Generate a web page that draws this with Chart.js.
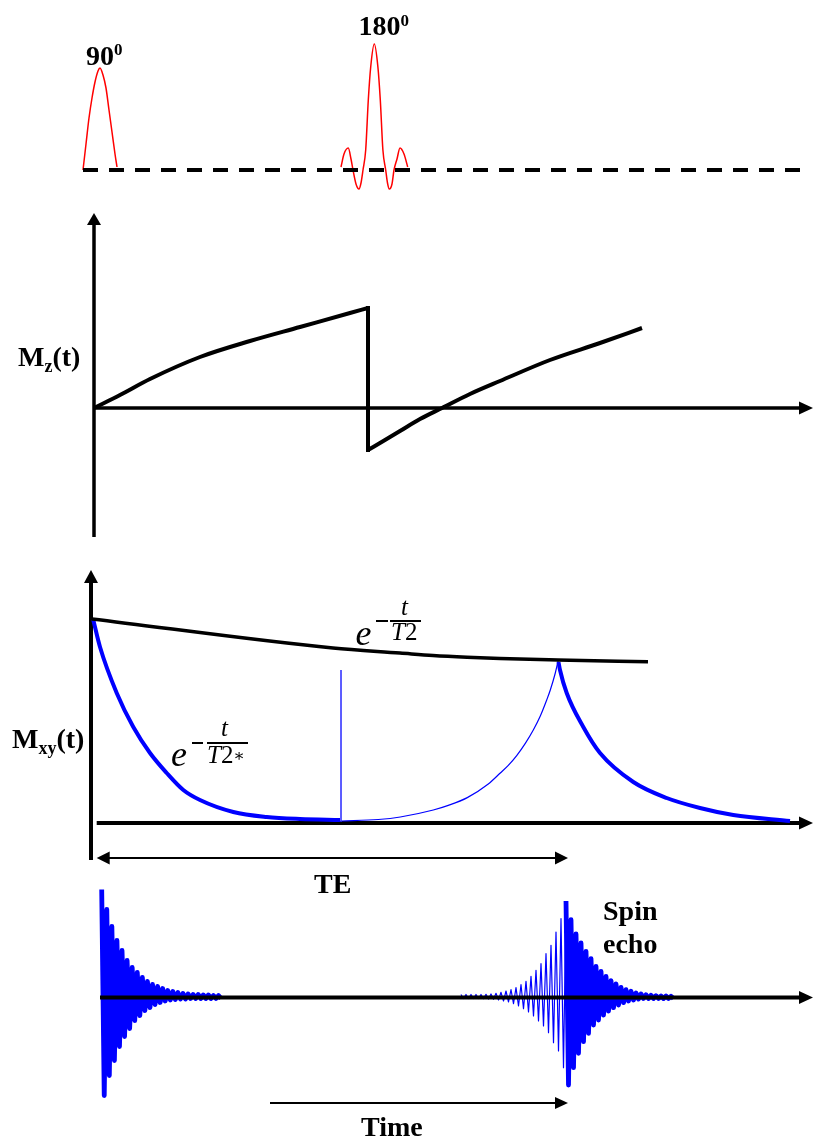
<!DOCTYPE html>
<html>
<head>
<meta charset="utf-8">
<script src="https://cdn.jsdelivr.net/npm/chart.js@4.4.1/dist/chart.umd.min.js"></script>
<style>
html,body{margin:0;padding:0;background:#fff;}
#wrap{position:relative;width:814px;height:1140px;overflow:hidden;background:#fff;}
canvas{position:absolute;left:0;}
.lbl{position:absolute;font-family:'Liberation Serif','Times New Roman',serif;font-weight:bold;font-size:28px;line-height:28px;white-space:nowrap;color:#000;z-index:5;}
.sub{font-size:18px;position:relative;top:6px;}
.sup{font-size:17px;position:relative;}
.m{position:absolute;font-family:'Liberation Serif','Times New Roman',serif;font-style:italic;line-height:1;white-space:nowrap;color:#000;z-index:5;}
.up{font-style:normal;}
.ast{font-style:normal;font-family:'DejaVu Serif',serif;font-size:17px;position:relative;top:-2px;}
.rule{position:absolute;height:1.5px;background:#000;z-index:5;}
</style>
</head>
<body>
<div id="wrap">
  <canvas id="cRF" width="814" height="200" style="top:0px"></canvas>
  <canvas id="cMz" width="814" height="345" style="top:200px"></canvas>
  <canvas id="cMxy" width="814" height="340" style="top:560px"></canvas>
  <canvas id="cSig" width="814" height="270" style="top:870px"></canvas>

  <div class="lbl" style="left:86px;top:42px">90<span class="sup" style="top:-10.5px">0</span></div>
  <div class="lbl" style="left:358.5px;top:11.5px">180<span class="sup" style="top:-8.5px">0</span></div>
  <div class="lbl" style="left:18px;top:343px">M<span class="sub">z</span>(t)</div>
  <div class="lbl" style="left:12px;top:725px">M<span class="sub">xy</span>(t)</div>
  <div class="lbl" style="left:314px;top:869.5px">TE</div>
  <div class="lbl" style="left:603px;top:896.5px">Spin</div>
  <div class="lbl" style="left:603px;top:930px">echo</div>
  <div class="lbl" style="left:361px;top:1113px">Time</div>

  <!-- e^(-t/T2) -->
  <div class="m" style="font-size:36px;left:355.5px;top:614.8px">e</div>
  <div class="rule" style="left:376px;top:620.3px;width:12px"></div>
  <div class="rule" style="left:390px;top:620.3px;width:31px"></div>
  <div class="m" style="font-size:25px;left:401px;top:594px">t</div>
  <div class="m" style="font-size:25px;left:391px;top:619px">T<span class="up">2</span></div>
  <!-- e^(-t/T2*) -->
  <div class="m" style="font-size:36px;left:171px;top:735.8px">e</div>
  <div class="rule" style="left:191.7px;top:742px;width:11.6px"></div>
  <div class="rule" style="left:206.7px;top:742px;width:41.6px"></div>
  <div class="m" style="font-size:25px;left:221px;top:715px">t</div>
  <div class="m" style="font-size:25px;left:207px;top:742px">T<span class="up">2</span><span class="ast">∗</span></div>
</div>

<script>
// ---------- DATA (time in arbitrary units, TE ≈ 95) ----------
const X_MIN = -18.4, X_MAX = 144.4;

// RF pulses (B1 amplitude, a.u.)
const rf90Time  = [-1.8,-1.2,-0.6,0,0.6,1.2,1.6,2.2,2.8,3.4,4.0,4.6,5.0];
const rf90Amp   = [0,0.26,0.52,0.72,0.88,0.99,1.02,0.95,0.82,0.60,0.38,0.16,0.03];
const rf180Time = [49.8,50.4,51.26,51.8,52.2,52.8,53.4,53.8,54.2,54.74,55.26,55.74,56.46,57.18,57.66,58.18,58.74,59.1,59.46,60.0,60.4,61.0,61.6,62.4,63.14];
const rf180Amp  = [0.03,0.16,0.22,0.11,0,-0.14,-0.19,-0.13,0,0.20,0.70,1.03,1.26,1.03,0.70,0.20,0,-0.13,-0.19,-0.14,0,0.11,0.22,0.16,0.03];
const rfBaseTime = [-1.8,142.2];
const rfBaseAmp  = [0,0];

// Longitudinal magnetisation Mz(t)
const mzRecovery1Time = [0.4,5.6,11.6,21.6,31.6,41.6,51.6,55.2];
const mzRecovery1Val  = [0,0.13,0.29,0.51,0.67,0.81,0.95,1.00];
const mzInversionTime = [55.2,55.2];
const mzInversionVal  = [1.00,-0.42];
const mzRecovery2Time = [55.2,58.6,61.6,65.6,70,75.6,81.6,91.6,101.6,110];
const mzRecovery2Val  = [-0.42,-0.32,-0.23,-0.11,0,0.14,0.27,0.48,0.65,0.80];

// Transverse magnetisation Mxy(t)
const t2EnvTime  = [0,48.2,61.6,68.2,75,81.6,93.2,111.2];
const t2EnvVal   = [1.02,0.875,0.85,0.8375,0.8285,0.822,0.815,0.8065];
const fidEnvTime = [0.26,1.6,4.94,8.26,11.6,14.94,18.26,21.6,28.26,34.94,41.6,49.6];
const fidEnvVal  = [1.015,0.88,0.65,0.48,0.35,0.25,0.165,0.115,0.055,0.03,0.02,0.015];
const jumpTime   = [49.8,49.8];
const jumpVal    = [0.765,0.005];
const rephaseTime = [49.86,57.26,61.66,68.26,71.26,75.06,79.26,81.66,83.26,84.94,86.66,88.26,89.66,90.94,91.66,92.66,93.26];
const rephaseVal  = [0.01,0.0175,0.03,0.065,0.088,0.127,0.195,0.25,0.288,0.337,0.398,0.465,0.535,0.615,0.665,0.75,0.815];
const echoEnvTime = [93.3,93.6,94.94,98.26,101.6,108.26,114.94,121.6,128.26,139.6];
const echoEnvVal  = [0.805,0.765,0.65,0.48,0.35,0.205,0.125,0.075,0.04,0.01];

// Received signal: extremes of each oscillation (a.u.)
const fidStart = 1.94, fidPeriod = 1.016;
const fidPos = [1.08,0.88,0.71,0.57,0.47,0.37,0.30,0.25,0.20,0.16,0.13,0.11,0.09,0.07,0.06,0.05,0.04,0.035,0.03,0.03,0.025,0.025,0.02,0.02];
const fidNeg = [0.98,0.78,0.63,0.49,0.39,0.31,0.23,0.18,0.13,0.10,0.07,0.05,0.035,0.025,0.02,0.015,0.015,0.01,0.01,0.01,0.01,0.01,0.01,0.01];
const echoCenter = 94.8, echoPeriod = 1.0;
const echoRisePos = [0.03,0.03,0.03,0.03,0.03,0.032,0.035,0.042,0.052,0.065,0.078,0.098,0.128,0.162,0.212,0.272,0.338,0.438,0.522,0.655,0.788,0.965];
const echoRiseNeg = [0.01,0.01,0.01,0.01,0.012,0.015,0.018,0.025,0.035,0.045,0.062,0.085,0.112,0.145,0.185,0.235,0.285,0.352,0.452,0.535,0.702];
const echoDecayPos = [0.778,0.635,0.545,0.462,0.388,0.312,0.262,0.212,0.168,0.135,0.102,0.078,0.062,0.045,0.035,0.028,0.022,0.018,0.015,0.015,0.012];
const echoDecayNeg = [0.875,0.702,0.558,0.442,0.358,0.275,0.225,0.175,0.135,0.102,0.075,0.052,0.035,0.025,0.015,0.01,0.01,0.01,0.01,0.01,0.01,0.01];

// ---------- helpers ----------
function pts(ts, vs){ return ts.map((t,i)=>({x:t, y:vs[i]})); }
function oscillation(t0, period, pos, neg){
  const out = [];
  for (let i=0;i<pos.length;i++){
    out.push({x:t0+i*period, y:pos[i]});
    if (i<neg.length) out.push({x:t0+(i+0.5)*period, y:-neg[i]});
  }
  return out;
}
function ds(label, data, color, width, extra){
  return Object.assign({label, data, borderColor:color, backgroundColor:color, borderWidth:width, fill:false, pointRadius:0, tension:0}, extra||{});
}
function drawArrows(chart, items){
  const ctx = chart.ctx, xs = chart.scales.x, ys = chart.scales.y;
  ctx.save();
  ctx.fillStyle = '#000'; ctx.strokeStyle = '#000';
  for (const a of items){
    const x0=xs.getPixelForValue(a.from[0]), y0=ys.getPixelForValue(a.from[1]);
    const x1=xs.getPixelForValue(a.to[0]),   y1=ys.getPixelForValue(a.to[1]);
    const L=Math.hypot(x1-x0,y1-y0), ux=(x1-x0)/L, uy=(y1-y0)/L;
    const hl=a.head[0], hw=a.head[1];
    const sx = a.both ? x0+ux*hl*0.9 : x0, sy = a.both ? y0+uy*hl*0.9 : y0;
    const ex = x1-ux*hl*0.9, ey = y1-uy*hl*0.9;
    ctx.lineWidth = a.w; ctx.lineCap='butt';
    ctx.beginPath(); ctx.moveTo(sx,sy); ctx.lineTo(ex,ey); ctx.stroke();
    const head=(tx,ty,dx,dy)=>{
      const bx=tx-dx*hl, by=ty-dy*hl;
      ctx.beginPath(); ctx.moveTo(tx,ty);
      ctx.lineTo(bx-dy*hw, by+dx*hw); ctx.lineTo(bx+dy*hw, by-dx*hw);
      ctx.closePath(); ctx.fill();
    };
    head(x1,y1,ux,uy);
    if (a.both) head(x0,y0,-ux,-uy);
  }
  ctx.restore();
}
function makeChart(id, yMin, yMax, datasets, arrows){
  const arrowPlugin = {
    id: 'axisArrows',
    beforeDatasetsDraw(chart){ drawArrows(chart, arrows.filter(a=>!a.over)); },
    afterDatasetsDraw(chart){ drawArrows(chart, arrows.filter(a=>a.over)); }
  };
  return new Chart(document.getElementById(id), {
    type:'line',
    data:{datasets},
    options:{
      responsive:false, maintainAspectRatio:false, animation:false, devicePixelRatio:1,
      events:[],
      layout:{padding:0},
      plugins:{legend:{display:false}, tooltip:{enabled:false}},
      elements:{point:{radius:0, hoverRadius:0}},
      scales:{
        x:{type:'linear', min:X_MIN, max:X_MAX, display:false},
        y:{type:'linear', min:yMin, max:yMax, display:false}
      }
    },
    plugins:[arrowPlugin]
  });
}

const BLUE = '#0000ff', RED = '#ff0000', BLACK = '#000000';

// Panel 1: RF
makeChart('cRF', -0.30, 1.70, [
  ds('baseline', pts(rfBaseTime, rfBaseAmp), BLACK, 4, {borderDash:[15,11]}),
  ds('90° pulse', pts(rf90Time, rf90Amp), RED, 1.5, {cubicInterpolationMode:'monotone'}),
  ds('180° pulse', pts(rf180Time, rf180Amp), RED, 1.5, {cubicInterpolationMode:'monotone'})
], []);

// Panel 2: Mz
makeChart('cMz', -1.37, 2.08, [
  ds('Mz recovery', pts(mzRecovery1Time, mzRecovery1Val), BLACK, 4, {cubicInterpolationMode:'monotone'}),
  ds('Mz inversion', pts(mzInversionTime, mzInversionVal), BLACK, 4, {borderCapStyle:'square'}),
  ds('Mz recovery after 180°', pts(mzRecovery2Time, mzRecovery2Val), BLACK, 4, {cubicInterpolationMode:'monotone'})
], [
  {from:[0.4,-1.29], to:[0.4,1.95], w:3.5, head:[12,7]},
  {from:[0.4,0], to:[144.2,0], w:3.5, head:[14,6.5]}
]);

// Panel 3: Mxy
makeChart('cMxy', -0.385, 1.315, [
  ds('T2 envelope', pts(t2EnvTime, t2EnvVal), BLACK, 3.5, {cubicInterpolationMode:'monotone'}),
  ds('T2* decay', pts(fidEnvTime, fidEnvVal), BLUE, 4, {cubicInterpolationMode:'monotone'}),
  ds('jump', pts(jumpTime, jumpVal), 'rgba(40,40,255,0.75)', 1),
  ds('rephasing', pts(rephaseTime, rephaseVal), BLUE, 1.2, {cubicInterpolationMode:'monotone'}),
  ds('echo decay', pts(echoEnvTime, echoEnvVal), BLUE, 4, {cubicInterpolationMode:'monotone'})
], [
  {from:[-0.2,-0.185], to:[-0.2,1.265], w:4, head:[13,7]},
  {from:[0.94,0], to:[144.2,0], w:4, head:[14,6.5]},
  {from:[0.94,-0.175], to:[95.2,-0.175], w:1.8, head:[13,6.5], both:true}
]);

// Panel 4: signal
makeChart('cSig', -1.425, 1.275, [
  ds('FID', oscillation(fidStart, fidPeriod, fidPos, fidNeg), BLUE, 4.8, {borderJoinStyle:'round'}),
  ds('echo rise', oscillation(echoCenter-(echoRisePos.length-1)*echoPeriod, echoPeriod, echoRisePos, echoRiseNeg), BLUE, 1.2, {borderJoinStyle:'round'}),
  ds('echo decay', oscillation(echoCenter, echoPeriod, [echoRisePos[echoRisePos.length-1]].concat(echoDecayPos), echoDecayNeg), BLUE, 4.8, {borderJoinStyle:'round'})
], [
  {from:[1.6,0], to:[144.2,0], w:4, head:[14,6.5], over:true},
  {from:[35.6,-1.055], to:[95.2,-1.055], w:1.8, head:[13,6]}
]);
</script>
</body>
</html>
